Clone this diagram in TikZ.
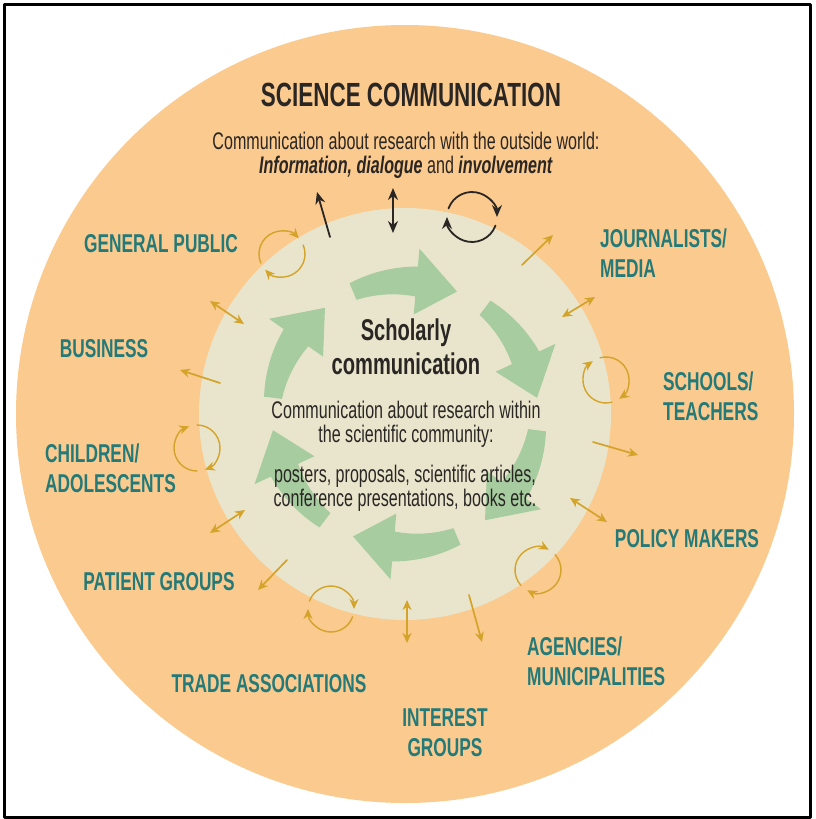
\documentclass[tikz,border=0pt]{standalone}
\usepackage{fontspec}
\setmainfont{Liberation Sans}
\newfontfamily\condfont{Liberation Sans}[FakeStretch=0.67]
\usetikzlibrary{arrows.meta}

\definecolor{peach}{HTML}{FBCA8E}
\definecolor{cream}{HTML}{E9E5CC}
\definecolor{leaf}{HTML}{A6CC9F}
\definecolor{gold}{HTML}{D3A32A}
\definecolor{tealtxt}{HTML}{237A78}
\definecolor{ink}{HTML}{2A2624}

\tikzset{
	lab/.style={font=\condfont\bfseries\fontsize{25.8}{30}\selectfont, text=tealtxt, inner sep=0pt},
	body/.style={font=\condfont\fontsize{24}{24}\selectfont, text=ink, align=center, inner sep=0pt},
	goldarr/.style={draw=gold, line width=1.7pt, -{Stealth[length=10pt,width=9pt]}},
	goldbi/.style={draw=gold, line width=1.7pt, {Stealth[length=10pt,width=9pt]}-{Stealth[length=10pt,width=9pt]}},
	goldcyc/.style={draw=gold, line width=1.4pt, -{Stealth[length=10pt,width=9pt]}},
	blackarr/.style={draw=ink, line width=1.8pt, -{Stealth[length=12pt,width=10pt]}}
}

\begin{document}
\begin{tikzpicture}[x=1pt, y=-1pt, line join=round, line cap=round]
	\useasboundingbox (0,0) rectangle (815,819);
	
	% discs
	\fill[peach] (405,414) circle (389);
	\fill[cream] (405,414) circle (206);
	
	% green cycle of arrows, tapered towards the tail
	\begin{scope}[shift={(405,414)}]
		\foreach \s in {-113,-53,...,187} {
			\pgfmathsetmacro{\e}{\s+46}
			\pgfmathsetmacro{\b}{\e-18}
			\fill[leaf] plot[domain=\s:\b, samples=20] (\x:{142+6*(\x-\s)/28})
				-- (\b:166) -- (\e:133) -- (\b:100)
				-- plot[domain=\b:\s, samples=20] (\x:{124-6*(\x-\s)/28}) -- cycle;
		}
	\end{scope}
	
	% texts
	\node (title) at (411,95) [font=\condfont\bfseries\fontsize{33.5}{34}\selectfont, text=ink, inner sep=0pt]{SCIENCE COMMUNICATION};
	\node (sub) at (406,155) [body]{Communication about research with the outside world:\\\textbf{\textit{Information, dialogue}} and \textbf{\textit{involvement}}};
	\node (sch) at (406,347) [body, font=\condfont\bfseries\fontsize{30}{34}\selectfont]{Scholarly\\communication};
	\node (within) at (406,424) [body]{Communication about research within\\the scientific community:};
	\node (media) at (405,488) [body]{posters, proposals, scientific articles,\\conference presentations, books etc.};
	
	% groups
	\node (gp) at (161,244) [lab]{GENERAL PUBLIC};
	\node (jour) at (600,253) [lab, anchor=west, align=left]{JOURNALISTS/\\MEDIA};
	\node (bus) at (104,349) [lab]{BUSINESS};
	\node (schools) at (663,396) [lab, anchor=west, align=left]{SCHOOLS/\\TEACHERS};
	\node (child) at (45,468) [lab, anchor=west, align=left]{CHILDREN/\\ADOLESCENTS};
	\node (policy) at (687,539) [lab]{POLICY MAKERS};
	\node (patient) at (159,582) [lab]{PATIENT GROUPS};
	\node (agency) at (527,661) [lab, anchor=west, align=left]{AGENCIES/\\MUNICIPALITIES};
	\node (trade) at (269,684) [lab]{TRADE ASSOCIATIONS};
	\node (interest) at (445,733) [lab, align=center]{INTEREST\\GROUPS};
	
	% gold arrows
	\foreach \xa/\ya/\xb/\yb in {220/383/180/370, 287/560/258/590, 469/595/482/642, 593/442/638/455, 522/265/553/235}
		\draw[goldarr] (\xa,\ya) -- (\xb,\yb);
	\foreach \xa/\ya/\xb/\yb in {210/301/244/324, 210/533/245/510, 407/600/407/643, 570/498/607/522, 562/317/595/297}
		\draw[goldbi] (\xa,\ya) -- (\xb,\yb);
	\foreach \cx/\cy/\h in {282/254/-43, 197/448/-110, 331/609/180, 538/570/-62, 606/380/-125}
		\foreach \k in {0,180}
			\draw[goldcyc] (\cx,\cy) ++({\h+\k-160}:23) arc[start angle=\h+\k-160, end angle=\h+\k, radius=23];
	
	% black arrows
	\draw[blackarr] (330,237) -- (317,192);
	\draw[blackarr, {Stealth[length=12pt,width=10pt]}-{Stealth[length=12pt,width=10pt]}] (393,188) -- (393,233);
	\foreach \k in {0,180}
		\draw[blackarr] (472,217) ++({\k-160}:25) arc[start angle=\k-160, end angle=\k, radius=25];
	
	% frame
	\draw[line width=3pt] (4.5,4.5) rectangle (810.5,817.5);
\end{tikzpicture}
\end{document}
